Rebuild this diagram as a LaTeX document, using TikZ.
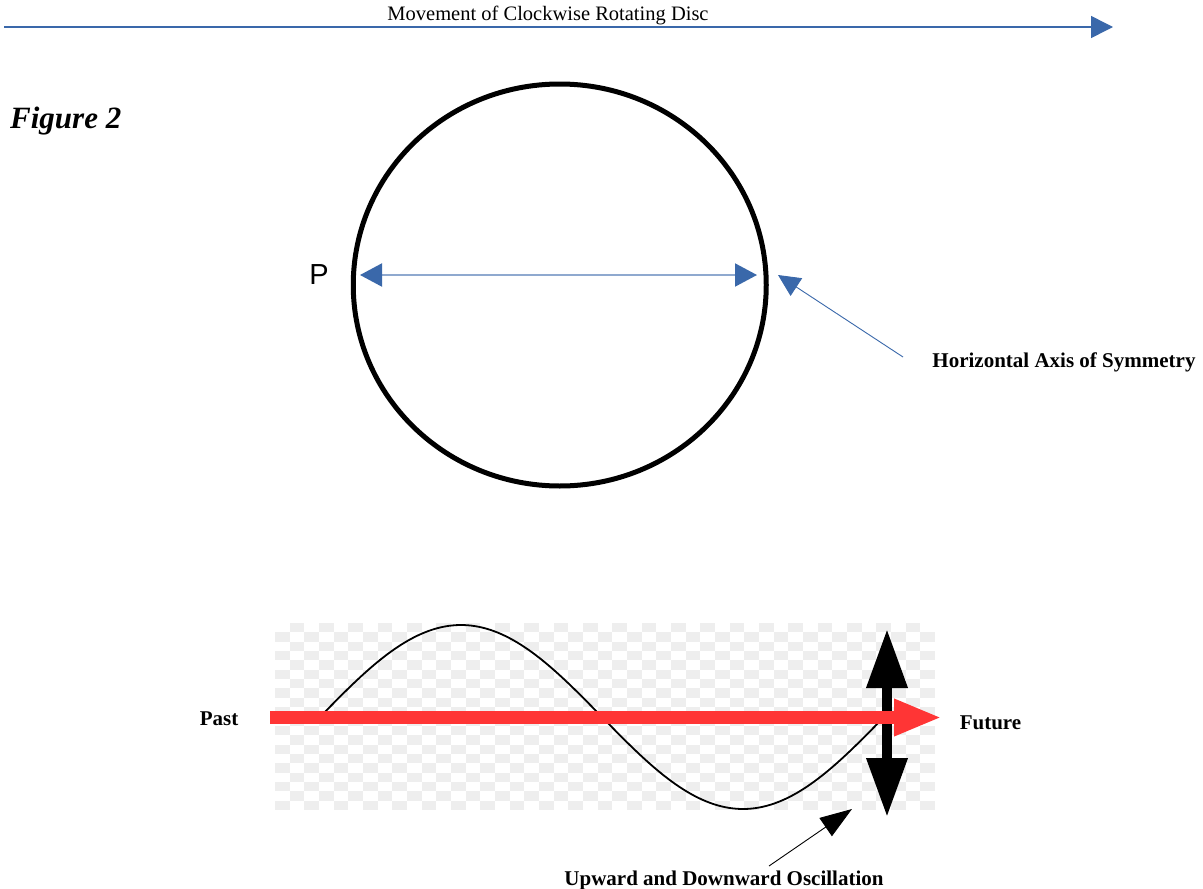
\documentclass[tikz,border=0pt]{standalone}
\usepackage{fontspec}
\setmainfont{Liberation Serif}
\newfontfamily\arialfont{Liberation Sans}
\usetikzlibrary{arrows.meta,shapes.geometric}
\definecolor{axisblue}{RGB}{58,104,170}
\definecolor{lightblue}{RGB}{143,169,207}
\definecolor{redarrow}{RGB}{255,53,53}
\definecolor{checkgray}{RGB}{238,238,238}
\begin{document}
\begin{tikzpicture}[x=1pt,y=-1pt,
  lbl/.style={anchor=base, inner sep=0pt, font=\fontsize{21}{25}\selectfont\bfseries},
  titletext/.style={anchor=base, inner sep=0pt, font=\fontsize{20.5}{24}\selectfont},
  disc/.style={ellipse, draw=black, line width=5pt, inner sep=0pt, minimum width=413pt, minimum height=402pt},
  bluearrow/.style={axisblue, line width=1.5pt, -{Triangle[length=22pt,width=22pt]}},
  axisarrow/.style={lightblue, line width=2pt, {Triangle[length=22pt,width=23pt,color=axisblue]}-{Triangle[length=22pt,width=23pt,color=axisblue]}},
  pointerblue/.style={axisblue, line width=0.9pt, -{Triangle[length=22pt,width=21pt]}},
  pointerblack/.style={black, line width=0.9pt, -{Triangle[length=32pt,width=22pt]}},
  timearrow/.style={redarrow, line width=13pt, -{Triangle[length=48pt,width=34pt]}},
  oscarrow/.style={black, line width=10pt, {Triangle[length=59pt,width=39pt]}-{Triangle[length=59pt,width=39pt]}},
  checker/.style={fill=checkgray}
]
\useasboundingbox (0,0) rectangle (1203,889);
\fill[white] (0,0) rectangle (1203,889);

% top movement arrow
\node[titletext] (title) at (548,20.7) {Movement of Clockwise Rotating Disc};
\coordinate (mvS) at (4,27);
\coordinate (mvE) at (1113,27);
\draw[bluearrow] (mvS) -- (mvE);

% figure label
\node[anchor=base west, inner sep=0pt, font=\fontsize{31}{36}\selectfont\bfseries\itshape] (fig) at (10,128) {Figure 2};

% disc
\node[disc] (disc) at (559.75,285) {};
\node[anchor=base, inner sep=0pt, font=\arialfont\fontsize{29}{34}\selectfont] (P) at (319,284) {P};
\coordinate (axL) at (360,275);
\coordinate (axR) at (757,275);
\draw[axisarrow] (axL) -- (axR);

% pointer to axis
\node[lbl] (hax) at (1064,367) {Horizontal Axis of Symmetry};
\coordinate (haxS) at (903,357);
\coordinate (haxT) at (778,275);
\draw[pointerblue] (haxS) -- (haxT);

% checkerboard background
\foreach \j in {0,...,19}{
  \foreach \k in {0,...,22}{
    \pgfmathtruncatemacro\ii{2*\k+mod(\j+1,2)}
    \ifnum\ii<45
      \fill[checker] ({275+\ii*14.6667},{623+\j*9.35}) rectangle ++(14.6667,9.35);
    \fi
  }
}

% sine wave
\draw[black, line width=1.8pt, domain=320:884, samples=150, smooth] plot (\x,{717-92*sin((\x-320)*0.638298)});

% oscillation arrow
\coordinate (oscTop) at (887,629);
\coordinate (oscBot) at (887,817);
\draw[oscarrow] (oscTop) -- (oscBot);

% time arrow
\coordinate (pastC) at (270,717.5);
\coordinate (futC) at (942,717.5);
\draw[timearrow] (pastC) -- (futC);
\node[lbl] (past) at (219,725) {Past};
\node[lbl] (future) at (990.5,729) {Future};

% oscillation pointer
\node[lbl] (osc) at (724,885) {Upward and Downward Oscillation};
\coordinate (oscS) at (769,866);
\coordinate (oscT) at (852,809);
\draw[pointerblack] (oscS) -- (oscT);
\end{tikzpicture}
\end{document}
